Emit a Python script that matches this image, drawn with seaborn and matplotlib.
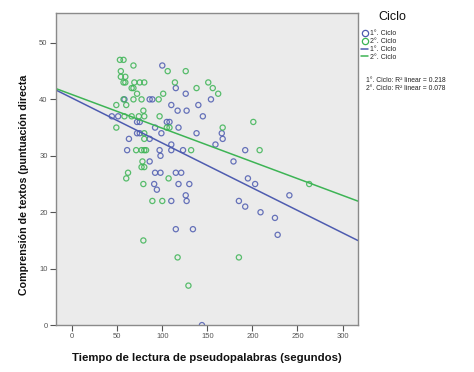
import matplotlib
matplotlib.use("Agg")
import matplotlib.pyplot as plt
import seaborn as sns
import pandas as pd
from matplotlib.lines import Line2D

# 1er. ciclo (azul)
ciclo1_x = [100, 115, 126, 58, 86, 89, 154, 110, 140, 117, 127, 145, 44, 51, 72, 75,
            105, 108, 92, 118, 72, 75, 99, 138, 166, 63, 86, 167, 110, 159, 61, 97,
            110, 123, 192, 98, 86, 179, 92, 98, 115, 121, 195, 91, 118, 130, 203, 94,
            126, 241, 110, 127, 185, 192, 209, 225, 115, 134, 228, 144]
ciclo1_y = [46, 42, 41, 40, 40, 40, 40, 39, 39, 38, 38, 37, 37, 37, 36, 36,
            36, 36, 35, 35, 34, 34, 34, 34, 34, 33, 33, 33, 32, 32, 31, 31,
            31, 31, 31, 30, 29, 29, 27, 27, 27, 27, 26, 25, 25, 25, 25, 24,
            23, 23, 22, 22, 22, 21, 20, 19, 17, 17, 16, 0]

# 2do. ciclo (verde)
ciclo2_x = [53, 57, 68, 106, 126, 54, 54, 59, 57, 59, 69, 75, 80, 114, 151, 138,
            156, 66, 68, 162, 72, 101, 57, 68, 77, 96, 49, 60, 79, 97, 58, 66,
            74, 80, 49, 105, 108, 167, 201, 80, 80, 77, 80, 82, 71, 132, 208, 78,
            77, 80, 62, 60, 107, 79, 263, 89, 100, 79, 117, 185, 129]
ciclo2_y = [47, 47, 46, 45, 45, 45, 44, 44, 43, 43, 43, 43, 43, 43, 43, 42,
            42, 42, 42, 41, 41, 41, 40, 40, 40, 40, 39, 39, 38, 37, 37, 37,
            37, 37, 35, 35, 35, 35, 36, 34, 33, 31, 31, 31, 31, 31, 31, 29,
            28, 28, 27, 26, 26, 25, 25, 22, 22, 15, 12, 12, 7]

ciclos = ["1°. Ciclo", "2°. Ciclo"]
r2_textos = ["0.218", "0.078"]
colores = ["#4E5CB0", "#3DB455"]

df = pd.DataFrame({
    "tiempo": ciclo1_x + ciclo2_x,
    "comprension": ciclo1_y + ciclo2_y,
    "ciclo": [ciclos[0]] * len(ciclo1_x) + [ciclos[1]] * len(ciclo2_x),
})

sns.set_theme(style="white")
plt.rcParams["font.family"] = ["Liberation Sans", "DejaVu Sans"]

fig = plt.figure(figsize=(4.74, 3.72), dpi=100)
ax = fig.add_axes([0.118, 0.126, 0.637, 0.839])
ax.set_facecolor("#EBEBEB")
ax.set_xlim(-18, 317)
ax.set_ylim(0, 55.3)

for ciclo, color in zip(ciclos, colores):
    sub = df[df["ciclo"] == ciclo]
    sns.regplot(data=sub, x="tiempo", y="comprension", ax=ax, ci=None, truncate=False,
                scatter_kws=dict(s=14, facecolors="none", edgecolors=color, linewidths=0.9, alpha=0.85),
                line_kws=dict(color=color, lw=1.1), color=color)

for s in ax.spines.values():
    s.set_color("#8A8A8A")
    s.set_linewidth(1.0)

ax.set_xticks([0, 50, 100, 150, 200, 250, 300])
ax.set_yticks([0, 10, 20, 30, 40, 50])
ax.tick_params(axis="both", which="both", direction="out", length=4, width=0.8,
               color="#555555", labelsize=5.5, labelcolor="#555555", pad=2,
               left=True, bottom=True)
ax.set_xlabel("Tiempo de lectura de pseudopalabras (segundos)", fontsize=8.2,
              fontweight="bold", color="#111111", labelpad=9)
ax.set_ylabel("Comprensión de textos (puntuación directa", fontsize=7.7,
              fontweight="bold", color="#111111")
ax.yaxis.set_label_coords(-0.09, 0.45)

handles = [
    Line2D([], [], ls="none", marker="o", mfc="none", mec=colores[0], ms=4.5, mew=0.9),
    Line2D([], [], ls="none", marker="o", mfc="none", mec=colores[1], ms=4.5, mew=0.9),
    Line2D([], [], color=colores[0], lw=1.1),
    Line2D([], [], color=colores[1], lw=1.1),
]
fig.text(392 / 474, 1 - 17 / 372, "Ciclo", fontsize=9, color="#111111",
         ha="center", va="center")
fig.legend(handles, ciclos + ciclos, loc="upper left",
           bbox_to_anchor=(360 / 474, 1 - 29 / 372), frameon=False, fontsize=5,
           handlelength=1.0, handletextpad=0.3, labelspacing=0.12, borderaxespad=0,
           borderpad=0.2)

for i, (c, r) in enumerate(zip(ciclos, r2_textos)):
    fig.text(366 / 474, 1 - (80 + 8 * i) / 372, f"{c}: R² linear = {r}",
             fontsize=4.9, color="#222222", va="center", ha="left")

fig.savefig("out.png", dpi=100)
